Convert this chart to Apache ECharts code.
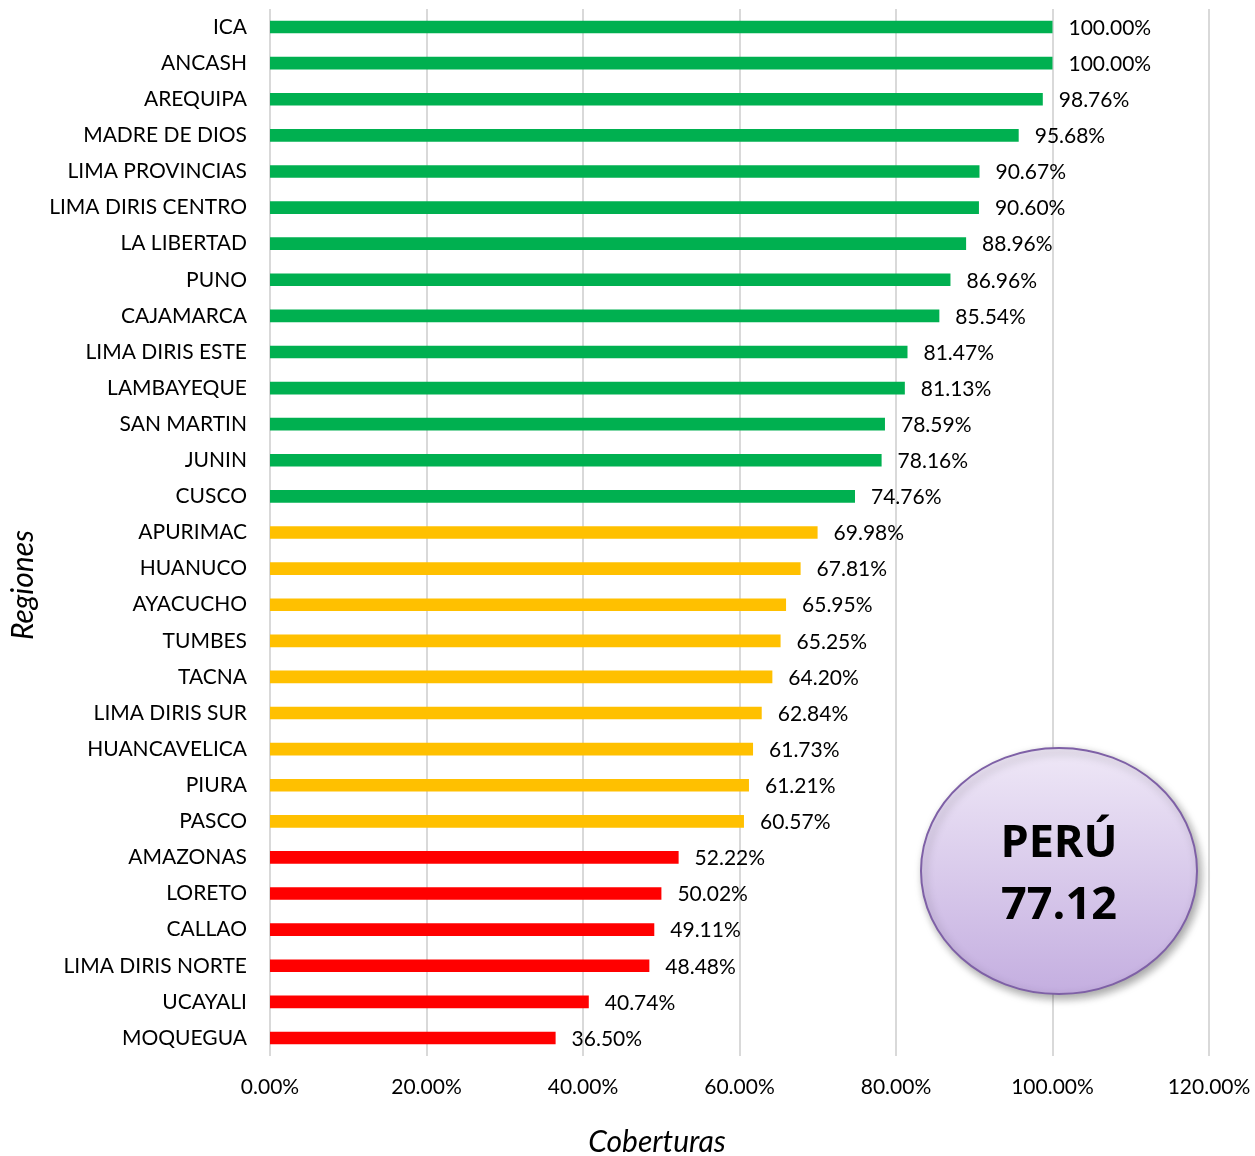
<!DOCTYPE html>
<html>
<head>
<meta charset="utf-8">
<script src="https://cdn.jsdelivr.net/npm/echarts@6/dist/echarts.min.js"></script>
<style>
  html, body { margin: 0; padding: 0; background: #fff; }
  #chart { width: 1255px; height: 1156px; }
</style>
</head>
<body>
<div id="chart"></div>
<script>
  // regiones ordenadas de mayor a menor cobertura
  const regiones = ['ICA', 'ANCASH', 'AREQUIPA', 'MADRE DE DIOS', 'LIMA PROVINCIAS', 'LIMA DIRIS CENTRO',
    'LA LIBERTAD', 'PUNO', 'CAJAMARCA', 'LIMA DIRIS ESTE', 'LAMBAYEQUE', 'SAN MARTIN', 'JUNIN', 'CUSCO',
    'APURIMAC', 'HUANUCO', 'AYACUCHO', 'TUMBES', 'TACNA', 'LIMA DIRIS SUR', 'HUANCAVELICA', 'PIURA', 'PASCO',
    'AMAZONAS', 'LORETO', 'CALLAO', 'LIMA DIRIS NORTE', 'UCAYALI', 'MOQUEGUA']
  const coberturas = [100.00, 100.00, 98.76, 95.68, 90.67, 90.60, 88.96, 86.96, 85.54, 81.47, 81.13, 78.59, 78.16, 74.76,
    69.98, 67.81, 65.95, 65.25, 64.20, 62.84, 61.73, 61.21, 60.57,
    52.22, 50.02, 49.11, 48.48, 40.74, 36.50]
  // nivel: 0 = verde, 1 = amarillo, 2 = rojo
  const niveles = [0, 0, 0, 0, 0, 0, 0, 0, 0, 0, 0, 0, 0, 0,
    1, 1, 1, 1, 1, 1, 1, 1, 1,
    2, 2, 2, 2, 2, 2]
  const ticks = [0, 20, 40, 60, 80, 100, 120]
  const promedioPeru = '77.12'

  const colores = ['#00B050', '#FFC000', '#FF0000']
  const fuente = 'Lato'

  const chart = echarts.init(document.getElementById('chart'))

  const option = {
    animation: false,
    grid: {
      left: 270,
      right: 46,
      top: 9,
      bottom: 100
    },
    xAxis: {
      type: 'value',
      min: ticks[0],
      max: ticks[ticks.length - 1],
      interval: 20,
      axisLine: { show: false },
      axisTick: { show: false },
      splitLine: {
        show: true,
        lineStyle: { color: '#D9D9D9', width: 2 }
      },
      axisLabel: {
        margin: 21,
        fontFamily: fuente,
        fontSize: 21,
        color: '#000',
        formatter: v => v.toFixed(2) + '%'
      }
    },
    yAxis: {
      type: 'category',
      inverse: true,
      data: regiones,
      axisLine: { show: false },
      axisTick: { show: false },
      axisLabel: {
        margin: 23,
        fontFamily: fuente,
        fontSize: 21,
        color: '#000'
      }
    },
    series: [{
      type: 'bar',
      barWidth: '35%',
      data: coberturas.map((v, i) => ({
        value: v,
        itemStyle: { color: colores[niveles[i]] }
      })),
      label: {
        show: true,
        position: 'right',
        distance: 16,
        offset: [0, 1],
        fontFamily: fuente,
        fontSize: 21,
        color: '#000',
        formatter: p => p.value.toFixed(2) + '%'
      }
    }],
    graphic: [
      {
        type: 'text',
        x: 657,
        y: 1142,
        style: {
          text: 'Coberturas',
          font: 'italic 30px ' + fuente,
          fill: '#000',
          align: 'center',
          verticalAlign: 'middle'
        }
      },
      {
        type: 'text',
        x: 23,
        y: 585,
        rotation: Math.PI / 2,
        style: {
          text: 'Regiones',
          font: 'italic 30px ' + fuente,
          fill: '#000',
          align: 'center',
          verticalAlign: 'middle'
        }
      },
      {
        type: 'ellipse',
        shape: { cx: 1059, cy: 871, rx: 138, ry: 123 },
        style: {
          fill: new echarts.graphic.LinearGradient(0, 0, 0, 1, [
            { offset: 0, color: '#EFE8F7' },
            { offset: 1, color: '#C4AEE0' }
          ]),
          stroke: '#7E60A6',
          lineWidth: 2,
          shadowBlur: 8,
          shadowOffsetX: 3,
          shadowOffsetY: 4,
          shadowColor: 'rgba(0,0,0,0.35)'
        },
        z: 10
      },
      {
        type: 'text',
        x: 1059,
        y: 844,
        z: 11,
        style: {
          text: 'PERÚ',
          font: 'bold 45px "Open Sans"',
          fill: '#000',
          align: 'center',
          verticalAlign: 'middle'
        }
      },
      {
        type: 'text',
        x: 1059,
        y: 906,
        z: 11,
        style: {
          text: promedioPeru,
          font: 'bold 45px "Open Sans"',
          fill: '#000',
          align: 'center',
          verticalAlign: 'middle'
        }
      }
    ]
  }

  chart.setOption(option)
</script>
</body>
</html>
